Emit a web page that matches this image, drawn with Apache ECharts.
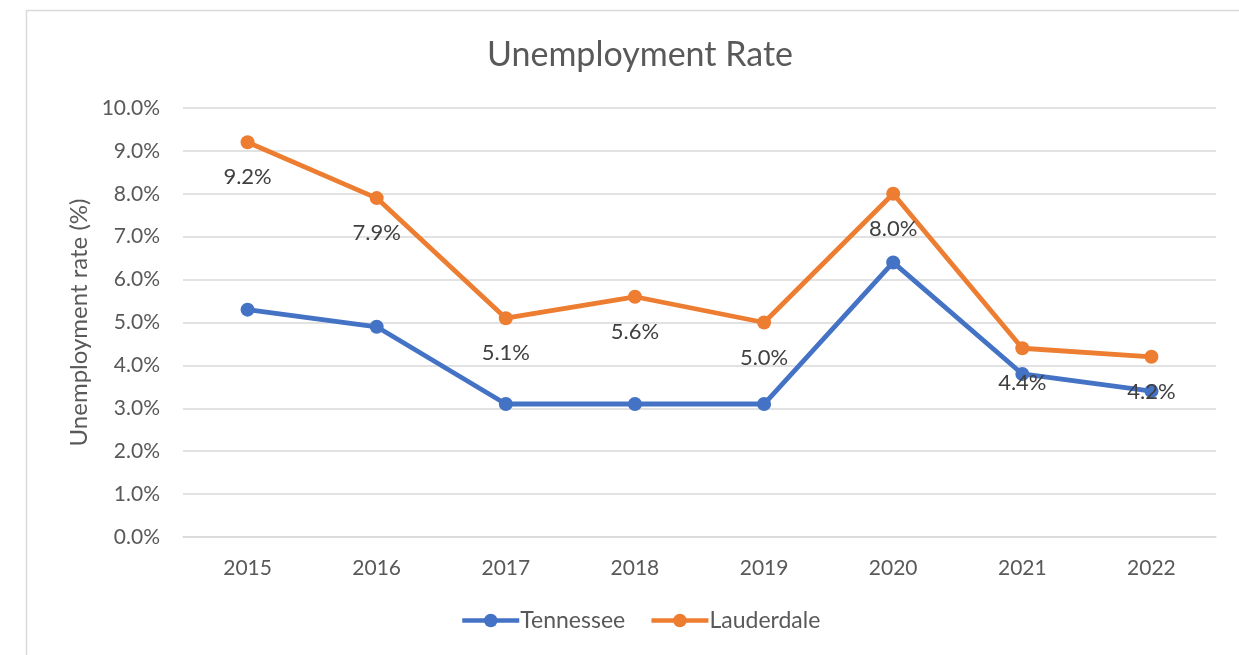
<!DOCTYPE html>
<html>
<head>
<meta charset="utf-8">
<script src="https://cdn.jsdelivr.net/npm/echarts@6/dist/echarts.min.js"></script>
<style>
  html, body { margin: 0; padding: 0; background: #fff; }
  #main { width: 1239px; height: 655px; }
</style>
</head>
<body>
<div id="main"></div>
<script>
// data
var years = ['2015', '2016', '2017', '2018', '2019', '2020', '2021', '2022'];
var tennessee = [5.3, 4.9, 3.1, 3.1, 3.1, 6.4, 3.8, 3.4];
var lauderdale = [9.2, 7.9, 5.1, 5.6, 5.0, 8.0, 4.4, 4.2];

var font = 'Lato, "Open Sans", sans-serif';

echarts.init(document.getElementById('main')).setOption({
    textStyle: { fontFamily: font },
    title: {
        text: 'Unemployment Rate',
        left: 635,
        top: 33,
        textAlign: 'center',
        textStyle: { fontSize: 34, fontWeight: 'normal', color: '#595959', fontFamily: font }
    },
    graphic: [{
        type: 'rect',
        shape: { x: 26.5, y: 10.5, width: 1400, height: 800 },
        style: { fill: 'none', stroke: '#d9d9d9', lineWidth: 1.5 },
        silent: true
    }],
    legend: {
        bottom: 18,
        left: 455,
        itemWidth: 57,
        itemHeight: 17,
        itemGap: 24,
        lineStyle: { width: 4.5 },
        textStyle: { fontSize: 23, color: '#595959', fontFamily: font, padding: [0, 0, 0, -4] },
        data: ['Tennessee', 'Lauderdale']
    },
    grid: { left: 183, right: 23, top: 108, bottom: 118 },
    xAxis: {
        type: 'category',
        data: years,
        boundaryGap: true,
        axisLine: { lineStyle: { color: '#d9d9d9', width: 1.5 } },
        axisTick: { show: false },
        axisLabel: { fontSize: 21, color: '#595959', margin: 21, fontFamily: font }
    },
    yAxis: {
        type: 'value',
        min: 0,
        max: 10,
        interval: 1,
        name: 'Unemployment rate (%)',
        nameLocation: 'middle',
        nameGap: 92,
        nameTextStyle: { fontSize: 24, color: '#595959', fontFamily: font },
        axisLabel: {
            fontSize: 21, color: '#595959', margin: 23, fontFamily: font,
            formatter: function (v) { return v.toFixed(1) + '%'; }
        },
        splitLine: { lineStyle: { color: '#d9d9d9', width: 1.5 } },
        axisLine: { show: false },
        axisTick: { show: false }
    },
    series: [{
        name: 'Tennessee',
        type: 'line',
        data: tennessee,
        color: '#4472C4',
        symbol: 'circle',
        symbolSize: 14,
        lineStyle: { width: 4.8 },
        z: 2
    }, {
        name: 'Lauderdale',
        type: 'line',
        data: lauderdale,
        color: '#ED7D31',
        symbol: 'circle',
        symbolSize: 14,
        lineStyle: { width: 4.8 },
        z: 3,
        label: {
            show: true,
            position: 'bottom',
            distance: 17,
            fontSize: 22,
            color: '#404040',
            fontFamily: font,
            formatter: function (p) { return p.value.toFixed(1) + '%'; }
        }
    }]
});
</script>
</body>
</html>
